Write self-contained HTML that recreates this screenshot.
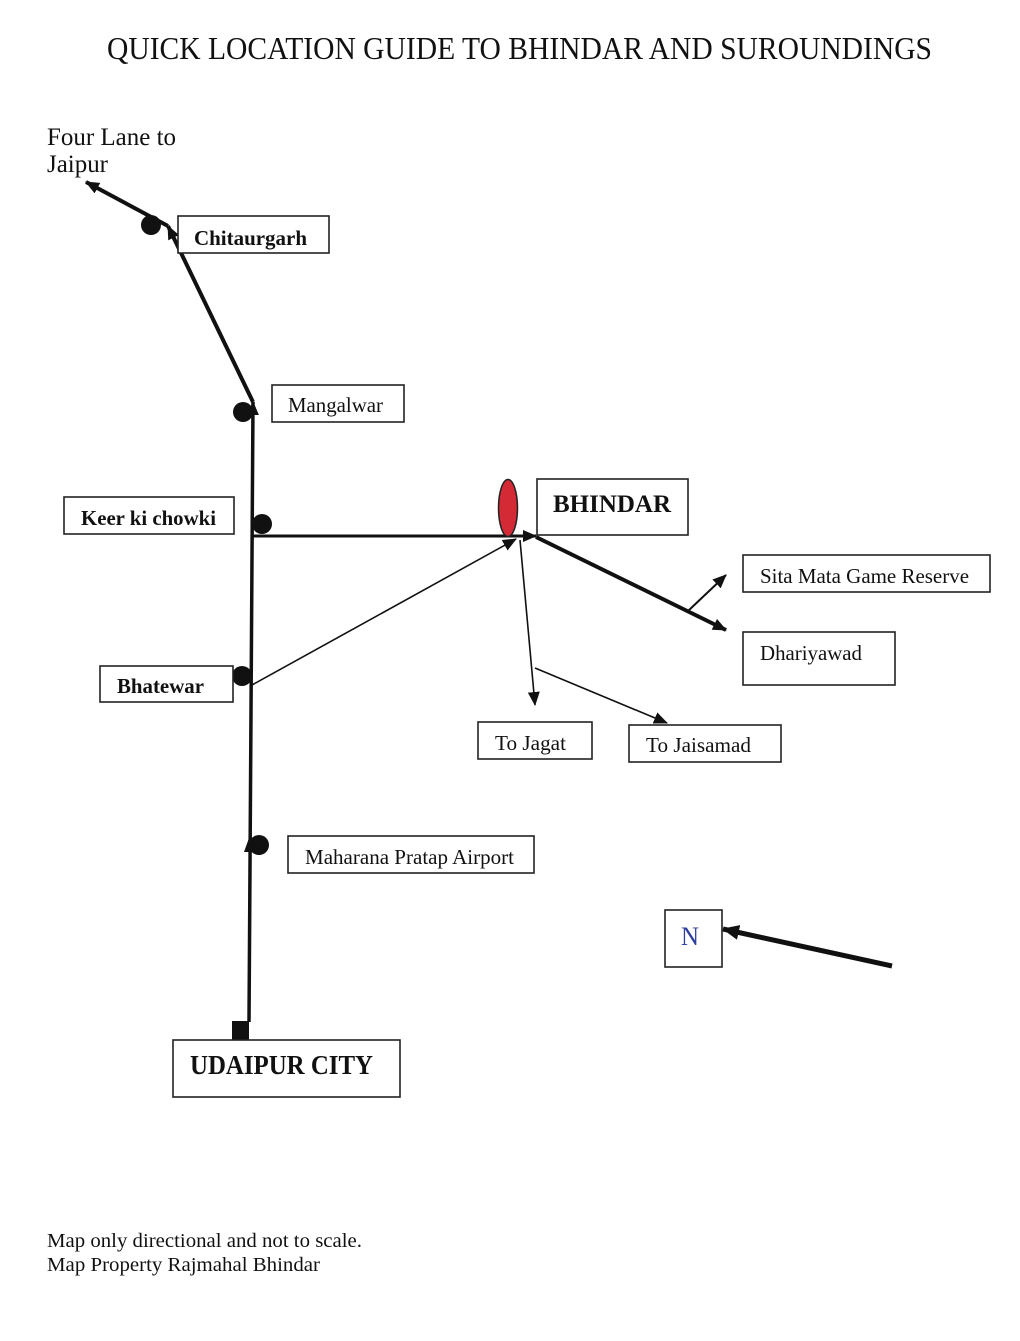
<!DOCTYPE html>
<html>
<head>
<meta charset="utf-8">
<style>
  html,body{margin:0;padding:0;background:#fff;}
  svg{display:block;}
  text{font-family:"Liberation Serif","Times New Roman",serif;fill:#111;}
  .b{font-weight:bold;}
  rect.box{fill:#fff;stroke:#222;stroke-width:1.6;}
</style>
</head>
<body>
<svg width="1020" height="1341" viewBox="0 0 1020 1341" xmlns="http://www.w3.org/2000/svg">
  <defs>
    <marker id="aL" markerUnits="userSpaceOnUse" markerWidth="17" markerHeight="15" refX="16" refY="7.5" orient="auto">
      <path d="M0,0 L17,7.5 L0,15 z" fill="#111"/>
    </marker>
    <marker id="aS" markerUnits="userSpaceOnUse" markerWidth="14" markerHeight="12" refX="13" refY="6" orient="auto">
      <path d="M0,0 L14,6 L0,12 z" fill="#111"/>
    </marker>
  </defs>

  <!-- Title -->
  <text x="107" y="59" font-size="32" textLength="825" lengthAdjust="spacingAndGlyphs">QUICK LOCATION GUIDE TO BHINDAR AND SUROUNDINGS</text>

  <!-- Four lane label -->
  <text x="47" y="145" font-size="25" textLength="129" lengthAdjust="spacingAndGlyphs">Four Lane to</text>
  <text x="47" y="172" font-size="25" textLength="61" lengthAdjust="spacingAndGlyphs">Jaipur</text>

  <!-- Roads -->
  <line x1="249" y1="1022" x2="253" y2="402" stroke="#111" stroke-width="3.5" marker-end="url(#aS)"/>
  <line x1="253" y1="402" x2="168" y2="226" stroke="#111" stroke-width="4" marker-end="url(#aS)"/>
  <line x1="168" y1="226" x2="86" y2="182" stroke="#111" stroke-width="4" marker-end="url(#aS)"/>
  <line x1="252" y1="536" x2="536" y2="536" stroke="#111" stroke-width="3" marker-end="url(#aS)"/>
  <line x1="252" y1="685" x2="516" y2="539" stroke="#111" stroke-width="1.6" marker-end="url(#aS)"/>
  <line x1="520" y1="540" x2="535" y2="705" stroke="#111" stroke-width="1.6" marker-end="url(#aS)"/>
  <line x1="535" y1="668" x2="667" y2="723" stroke="#111" stroke-width="1.6" marker-end="url(#aS)"/>
  <line x1="536" y1="537" x2="726" y2="630" stroke="#111" stroke-width="4" marker-end="url(#aS)"/>
  <line x1="688" y1="611" x2="726" y2="575" stroke="#111" stroke-width="2" marker-end="url(#aS)"/>
  <line x1="892" y1="966" x2="723" y2="929" stroke="#111" stroke-width="5" marker-end="url(#aL)"/>
  <!-- small up arrow at airport -->
  <path d="M244,852 L249,838 L254,852 z" fill="#111"/>

  <!-- Dots -->
  <circle cx="151" cy="225" r="10" fill="#111"/>
  <circle cx="243" cy="412" r="10" fill="#111"/>
  <circle cx="262" cy="524" r="10" fill="#111"/>
  <circle cx="242" cy="676" r="10" fill="#111"/>
  <circle cx="259" cy="845" r="10" fill="#111"/>
  <rect x="232" y="1021" width="17" height="19" fill="#111"/>

  <!-- Bhindar marker -->
  <ellipse cx="508" cy="508" rx="9.5" ry="28.5" fill="#d42a35" stroke="#222" stroke-width="1.5"/>

  <!-- Boxes -->
  <rect class="box" x="178" y="216" width="151" height="37"/>
  <text class="b" x="194" y="245" font-size="21" textLength="113" lengthAdjust="spacingAndGlyphs">Chitaurgarh</text>

  <rect class="box" x="272" y="385" width="132" height="37"/>
  <text x="288" y="412" font-size="21" textLength="95" lengthAdjust="spacingAndGlyphs">Mangalwar</text>

  <rect class="box" x="64" y="497" width="170" height="37"/>
  <text class="b" x="81" y="525" font-size="21" textLength="135" lengthAdjust="spacingAndGlyphs">Keer ki chowki</text>

  <rect class="box" x="537" y="479" width="151" height="56"/>
  <text class="b" x="553" y="512" font-size="25" textLength="118" lengthAdjust="spacingAndGlyphs">BHINDAR</text>

  <rect class="box" x="743" y="555" width="247" height="37"/>
  <text x="760" y="583" font-size="21" textLength="209" lengthAdjust="spacingAndGlyphs">Sita Mata Game Reserve</text>

  <rect class="box" x="743" y="632" width="152" height="53"/>
  <text x="760" y="660" font-size="21" textLength="102" lengthAdjust="spacingAndGlyphs">Dhariyawad</text>

  <rect class="box" x="100" y="666" width="133" height="36"/>
  <text class="b" x="117" y="693" font-size="21" textLength="87" lengthAdjust="spacingAndGlyphs">Bhatewar</text>

  <rect class="box" x="478" y="722" width="114" height="37"/>
  <text x="495" y="750" font-size="21" textLength="71" lengthAdjust="spacingAndGlyphs">To Jagat</text>

  <rect class="box" x="629" y="725" width="152" height="37"/>
  <text x="646" y="752" font-size="21" textLength="105" lengthAdjust="spacingAndGlyphs">To Jaisamad</text>

  <rect class="box" x="288" y="836" width="246" height="37"/>
  <text x="305" y="864" font-size="21" textLength="209" lengthAdjust="spacingAndGlyphs">Maharana Pratap Airport</text>

  <rect class="box" x="665" y="910" width="57" height="57"/>
  <text x="681" y="945" font-size="26" style="fill:#2c3e9e" textLength="18" lengthAdjust="spacingAndGlyphs">N</text>

  <rect class="box" x="173" y="1040" width="227" height="57"/>
  <text class="b" x="190" y="1074" font-size="27" textLength="183" lengthAdjust="spacingAndGlyphs">UDAIPUR CITY</text>

  <!-- Footer -->
  <text x="47" y="1247" font-size="20" textLength="315" lengthAdjust="spacingAndGlyphs">Map only directional and not to scale.</text>
  <text x="47" y="1271" font-size="20" textLength="273" lengthAdjust="spacingAndGlyphs">Map Property Rajmahal Bhindar</text>
</svg>
</body>
</html>
